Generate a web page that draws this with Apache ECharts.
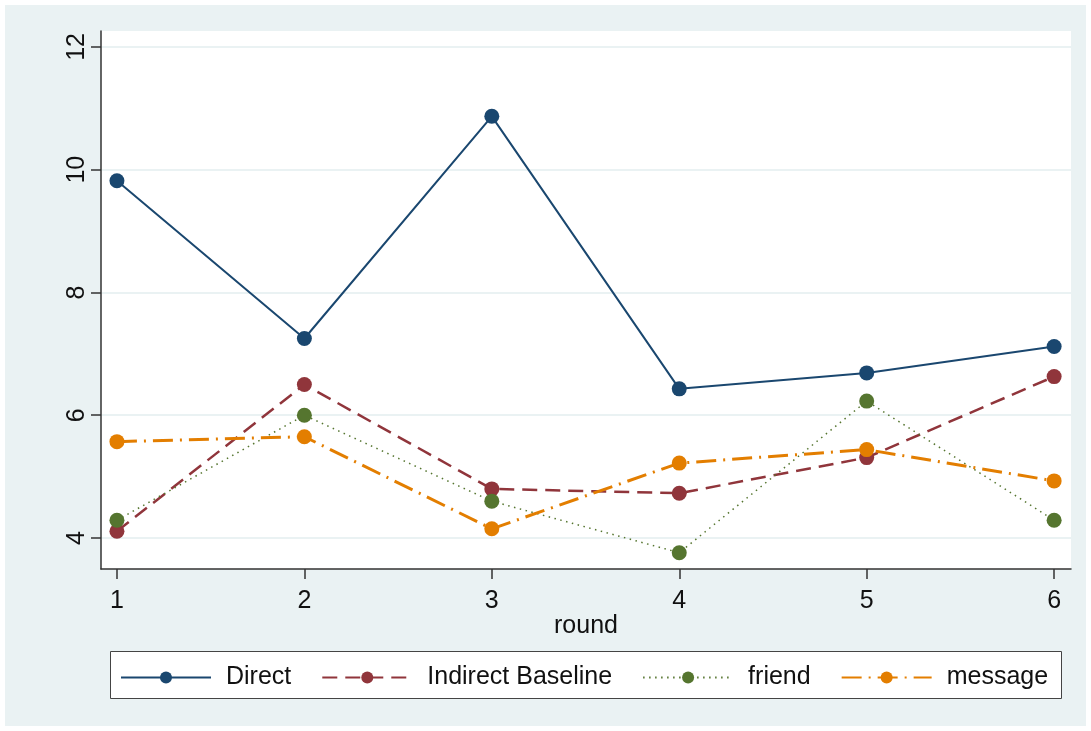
<!DOCTYPE html>
<html>
<head>
<meta charset="utf-8">
<script src="https://cdn.jsdelivr.net/npm/echarts@6/dist/echarts.min.js"></script>
<style>
  html, body { margin: 0; padding: 0; background: #fff; }
  #chart { width: 1091px; height: 731px; }
</style>
</head>
<body>
<div id="chart"></div>
<script>
// --- data ---
const rounds = [1, 2, 3, 4, 5, 6]
const direct = [9.82, 7.25, 10.87, 6.43, 6.69, 7.12]
const indirectBaseline = [4.11, 6.50, 4.80, 4.73, 5.31, 6.63]
const friend = [4.29, 6.00, 4.60, 3.76, 6.23, 4.29]
const message = [5.57, 5.65, 4.15, 5.22, 5.44, 4.93]
const yTicks = [4, 6, 8, 10, 12]
const xTicks = [1, 2, 3, 4, 5, 6]

// stata s2color
const COLORS = {
  direct: '#1a476f',
  indirect: '#90353b',
  friend: '#55752f',
  message: '#e37e00'
}
const BG = '#eaf2f3'
const FONT = 'Liberation Sans, Arial, sans-serif'
const FS = 25

const pairs = vals => rounds.map((r, i) => [r, vals[i]])

const mkSeries = (name, vals, color, lineStyle) => ({
  name,
  type: 'line',
  data: pairs(vals),
  symbol: 'circle',
  symbolSize: 15,
  showSymbol: true,
  itemStyle: { color },
  lineStyle: { color, ...lineStyle },
  emphasis: { disabled: true },
  animation: false
})

const chart = echarts.init(document.getElementById('chart'))

const option = {
  backgroundColor: '#fff',
  animation: false,
  graphic: [
    {
      type: 'rect',
      z: -10,
      silent: true,
      shape: { x: 5, y: 5, width: 1081, height: 721 },
      style: { fill: BG }
    },
    {
      type: 'rect',
      z: -5,
      silent: true,
      shape: { x: 110.5, y: 651.5, width: 951, height: 47 },
      style: { fill: '#fff', stroke: '#444', lineWidth: 1 }
    }
  ],
  grid: {
    left: 101,
    top: 31,
    right: 20,
    bottom: 162,
    show: true,
    backgroundColor: '#fff',
    borderWidth: 0
  },
  legend: {
    left: 120,
    top: 665,
    itemWidth: 90,
    itemHeight: 15,
    itemGap: 30,
    padding: 0,
    textStyle: { fontFamily: FONT, fontSize: FS, color: '#111', padding: [0, 0, 0, 10] },
    data: ['Direct', 'Indirect Baseline', 'friend', 'message']
  },
  xAxis: {
    type: 'value',
    min: 0.915,
    max: 6.09,
    name: 'round',
    nameLocation: 'middle',
    nameGap: 45,
    nameMoveOverlap: false,
    nameTextStyle: { fontFamily: FONT, fontSize: FS, color: '#111' },
    axisLine: { show: true, lineStyle: { color: '#333', width: 1.5 } },
    axisTick: { show: true, length: 10, customValues: xTicks, lineStyle: { color: '#333', width: 1.5 } },
    axisLabel: { customValues: xTicks, fontFamily: FONT, fontSize: FS, color: '#111', margin: 20 },
    splitLine: { show: false }
  },
  yAxis: {
    type: 'value',
    min: 3.495,
    max: 12.26,
    axisLine: { show: true, lineStyle: { color: '#333', width: 1.5 } },
    axisTick: { show: true, length: 10, customValues: yTicks, lineStyle: { color: '#333', width: 1.5 } },
    axisLabel: { customValues: yTicks, rotate: 90, fontFamily: FONT, fontSize: FS, color: '#111', margin: 11 },
    splitLine: { show: true, lineStyle: { color: BG, width: 2 } }
  },
  series: [
    mkSeries('Direct', direct, COLORS.direct, { width: 2, type: 'solid' }),
    mkSeries('Indirect Baseline', indirectBaseline, COLORS.indirect, { width: 2.5, type: [15, 8] }),
    mkSeries('friend', friend, COLORS.friend, { width: 1.5, type: [1.5, 4.5] }),
    mkSeries('message', message, COLORS.message, { width: 3, type: [20, 7, 2, 7] })
  ]
}

chart.setOption(option)
</script>
</body>
</html>
